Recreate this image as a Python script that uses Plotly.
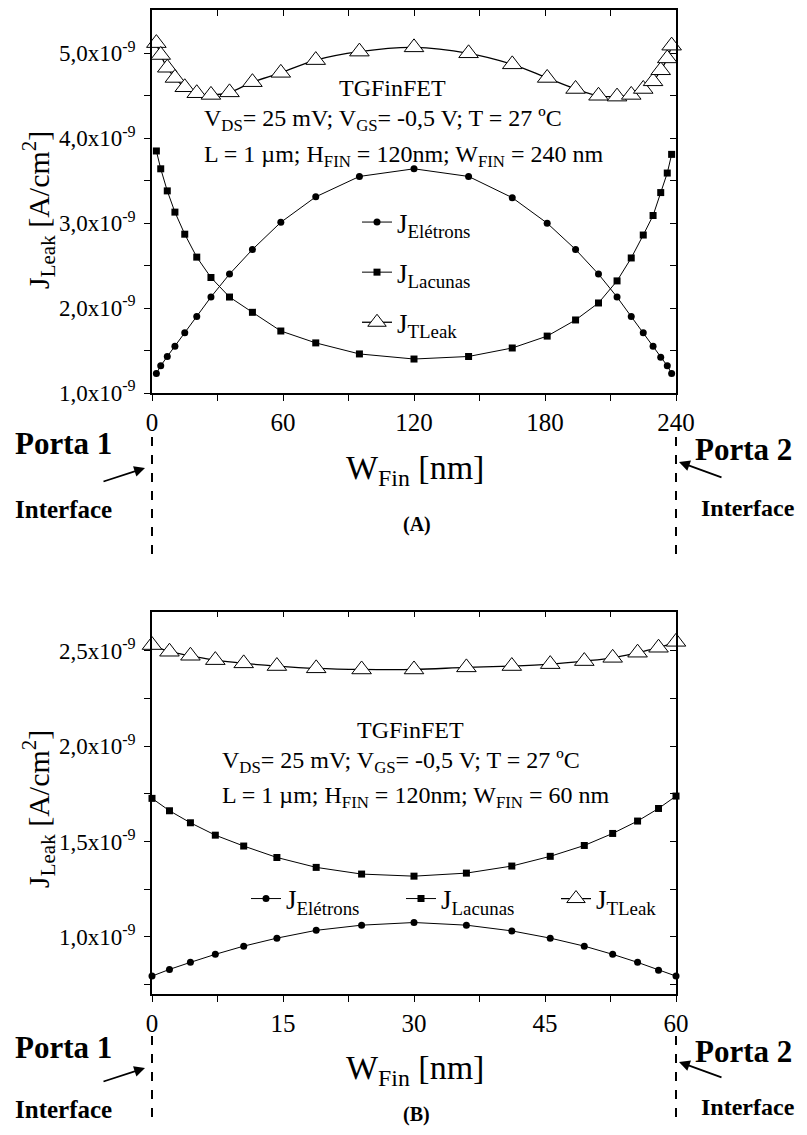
import numpy as np
import plotly.graph_objects as go

W, H = 807, 1135          # browser window
OFF = 8                   # default body margin of the written page
FW, FH = W - 2 * OFF, H - 2 * OFF
FONT = "Liberation Serif"

# ---------------- data (current densities in units of 1e-9 A/cm^2) ----------------
w_fin_a = [2, 4, 7, 10.5, 15, 20.5, 27, 35.5, 46, 59, 75, 95, 120, 145, 165, 181, 194,
           204.5, 213, 219.5, 225, 229.5, 233, 236, 238]
j_eletrons_a = [1.23, 1.32, 1.43, 1.55, 1.71, 1.90, 2.13, 2.40, 2.69, 3.01, 3.31, 3.55, 3.64,
                3.55, 3.30, 3.00, 2.69, 2.40, 2.13, 1.90, 1.71, 1.55, 1.42, 1.32, 1.23]
j_lacunas_a = [3.85, 3.64, 3.38, 3.13, 2.87, 2.60, 2.36, 2.13, 1.95, 1.73, 1.59, 1.46, 1.40,
               1.43, 1.53, 1.67, 1.86, 2.06, 2.32, 2.59, 2.86, 3.09, 3.36, 3.59, 3.81]
j_tleak_a = [5.12, 4.98, 4.83, 4.71, 4.60, 4.53, 4.51, 4.54, 4.66, 4.77, 4.92, 5.02, 5.07,
             5.00, 4.87, 4.71, 4.58, 4.50, 4.49, 4.51, 4.58, 4.67, 4.80, 4.94, 5.09]

w_fin_b = [0, 2, 4.4, 7.25, 10.5, 14.3, 18.8, 24, 30, 36, 41.2, 45.6, 49.5, 52.75, 55.6, 58, 60]
j_eletrons_b = [0.794, 0.829, 0.866, 0.908, 0.951, 0.993, 1.034, 1.061, 1.075, 1.061, 1.031,
                0.993, 0.951, 0.908, 0.866, 0.825, 0.794]
j_lacunas_b = [1.726, 1.661, 1.598, 1.533, 1.476, 1.416, 1.364, 1.329, 1.318, 1.334, 1.371,
               1.422, 1.479, 1.542, 1.607, 1.673, 1.738]
j_tleak_b = [2.53, 2.495, 2.474, 2.451, 2.434, 2.42, 2.408, 2.402, 2.402, 2.413, 2.42, 2.43,
             2.446, 2.463, 2.49, 2.516, 2.547]

yticks_a = [1.0, 2.0, 3.0, 4.0, 5.0]
yminor_a = [1.5, 2.5, 3.5, 4.5]
yticks_b = [1.0, 1.5, 2.0, 2.5]
yminor_b = [0.75, 1.25, 1.75, 2.25]
xticks_a = [0, 60, 120, 180, 240]
xticks_b = [0, 15, 30, 45, 60]
SCALE = 1e-9


def P(x):
    return (x - OFF) / FW


def Q(y):
    return 1 - (y - OFF) / FH


def tick_text(v):
    return ("%.1f" % v).replace(".", ",") + "x10<sup>-9</sup>"


names = ["J<sub>Elétrons</sub>", "J<sub>Lacunas</sub>", "J<sub>TLeak</sub>"]

fig = go.Figure()


def add_panel(xv, je, jl, jt, xa, ya, legend, tag):
    sc = np.array
    fig.add_trace(go.Scatter(x=xv, y=sc(je) * SCALE, mode="lines+markers", name=names[0],
                             line=dict(color="black", width=1),
                             marker=dict(symbol="circle", size=7, color="black"),
                             xaxis=xa, yaxis=ya, legend=legend, legendgroup=tag + "e",
                             cliponaxis=False))
    fig.add_trace(go.Scatter(x=xv, y=sc(jl) * SCALE, mode="lines+markers", name=names[1],
                             line=dict(color="black", width=1),
                             marker=dict(symbol="square", size=7, color="black"),
                             xaxis=xa, yaxis=ya, legend=legend, legendgroup=tag + "l",
                             cliponaxis=False))
    fig.add_trace(go.Scatter(x=xv, y=sc(jt) * SCALE, mode="lines+markers", name=names[2],
                             line=dict(color="black", width=1.3, shape="spline", smoothing=1.0),
                             marker=dict(symbol="triangle-up", size=17, color="white",
                                         line=dict(color="black", width=1)),
                             xaxis=xa, yaxis=ya, legend=legend, legendgroup=tag + "t",
                             cliponaxis=False))


add_panel(w_fin_a, j_eletrons_a, j_lacunas_a, j_tleak_a, "x", "y", "legend", "a")
add_panel(w_fin_b, j_eletrons_b, j_lacunas_b, j_tleak_b, "x2", "y2", "legend2", "b")
# invisible traces so the mirrored (top/right) axes are drawn
fig.add_trace(go.Scatter(x=w_fin_a, y=np.array(j_tleak_a) * SCALE, mode="markers",
                         marker=dict(opacity=0), showlegend=False, hoverinfo="skip",
                         xaxis="x3", yaxis="y3"))
fig.add_trace(go.Scatter(x=w_fin_b, y=np.array(j_tleak_b) * SCALE, mode="markers",
                         marker=dict(opacity=0), showlegend=False, hoverinfo="skip",
                         xaxis="x4", yaxis="y4"))

xdom = [P(152), P(676)]
ydom_a = [Q(393), Q(10)]
ydom_b = [Q(994), Q(611.7)]
rng_a = [1.0 * SCALE, 5.51 * SCALE]
rng_b = [0.70 * SCALE, 2.705 * SCALE]

xtickfont = dict(family=FONT, size=25, color="black")
ytickfont = dict(family=FONT, size=23, color="black")
common = dict(showline=True, linecolor="black", linewidth=1.5, showgrid=False, zeroline=False,
              tickcolor="black", tickwidth=1.3, ticklen=6)


def minor(ticks, **kw):
    return dict(ticks=ticks, ticklen=6, tickcolor="black", tickwidth=1.3, **kw)


fig.update_layout(
    width=FW, height=FH, margin=dict(l=0, r=0, t=0, b=0, autoexpand=False),
    paper_bgcolor="white", plot_bgcolor="white",
    font=dict(family=FONT, color="black"),
    xaxis=dict(domain=xdom, anchor="y", range=[0, 240], tickvals=xticks_a, ticks="outside",
               tickfont=xtickfont, ticklabelstandoff=0, minor=minor("outside", dtick=30),
               **common),
    yaxis=dict(domain=ydom_a, anchor="x", range=rng_a, tickvals=[v * SCALE for v in yticks_a],
               ticktext=[tick_text(v) for v in yticks_a], ticks="outside", tickfont=ytickfont,
               ticklabelstandoff=4,
               minor=minor("outside", tickvals=[v * SCALE for v in yminor_a]), **common),
    xaxis3=dict(overlaying="x", anchor="y", side="top", range=[0, 240], tickvals=xticks_a,
                ticks="inside", showticklabels=False, minor=minor("inside", dtick=30), **common),
    yaxis3=dict(overlaying="y", anchor="x", side="right", range=rng_a,
                tickvals=[v * SCALE for v in yticks_a], ticks="inside", showticklabels=False,
                minor=minor("inside", tickvals=[v * SCALE for v in yminor_a]), **common),
    xaxis2=dict(domain=xdom, anchor="y2", range=[0, 60], tickvals=xticks_b, ticks="outside",
                tickfont=xtickfont, ticklabelstandoff=0, minor=minor("outside", dtick=7.5),
                **common),
    yaxis2=dict(domain=ydom_b, anchor="x2", range=rng_b, tickvals=[v * SCALE for v in yticks_b],
                ticktext=[tick_text(v) for v in yticks_b], ticks="outside", tickfont=ytickfont,
                ticklabelstandoff=4,
                minor=minor("outside", tickvals=[v * SCALE for v in yminor_b]), **common),
    xaxis4=dict(overlaying="x2", anchor="y2", side="top", range=[0, 60], tickvals=xticks_b,
                ticks="inside", showticklabels=False, minor=minor("inside", dtick=7.5), **common),
    yaxis4=dict(overlaying="y2", anchor="x2", side="right", range=rng_b,
                tickvals=[v * SCALE for v in yticks_b], ticks="inside", showticklabels=False,
                minor=minor("inside", tickvals=[v * SCALE for v in yminor_b]), **common),
    legend=dict(x=P(357), y=Q(198), xanchor="left", yanchor="top", orientation="v",
                bgcolor="rgba(0,0,0,0)", font=dict(family=FONT, size=27, color="black"),
                tracegroupgap=12),
    legend2=dict(x=P(246), y=Q(899), xanchor="left", yanchor="middle", orientation="h",
                 bgcolor="rgba(0,0,0,0)", font=dict(family=FONT, size=27, color="black"),
                 entrywidth=110, entrywidthmode="pixels"),
    showlegend=True,
)

ann = []


def text(x, y, s, size, bold=False, xanchor="center", angle=0):
    if bold:
        s = "<b>" + s + "</b>"
    ann.append(dict(x=P(x), y=Q(y), xref="paper", yref="paper", text=s, showarrow=False,
                    xanchor=xanchor, yanchor="middle", textangle=angle,
                    font=dict(family=FONT, size=size, color="black")))


def arrow(tx, ty, hx, hy):
    ann.append(dict(x=P(hx), y=Q(hy), xref="paper", yref="paper", text="", showarrow=True,
                    ax=tx - hx, ay=ty - hy, axref="pixel", ayref="pixel",
                    arrowhead=2, arrowsize=1.2, arrowwidth=1.8, arrowcolor="black"))


ytitle = "J<sub>Leak</sub> [A/cm<sup>2</sup>]"
xtitle = "W<sub>Fin</sub> [nm]"
for (ytc, xtc, lab, s) in [(210, 470, 524, "(A)"), (809, 1070, 1114, "(B)")]:
    text(38, ytc, ytitle, 30, angle=-90)
    text(415, xtc, xtitle, 34)
    text(417, lab, s, 20, bold=True)

text(392, 88, "TGFinFET", 24)
text(202, 120, "V<sub>DS</sub>= 25 mV; V<sub>GS</sub>= -0,5 V; T = 27 ºC", 24, xanchor="left")
text(202, 156, "L = 1 µm; H<sub>FIN</sub> = 120nm; W<sub>FIN</sub> = 240 nm", 24, xanchor="left")
text(410, 730, "TGFinFET", 24)
text(220, 762, "V<sub>DS</sub>= 25 mV; V<sub>GS</sub>= -0,5 V; T = 27 ºC", 24, xanchor="left")
text(220, 797, "L = 1 µm; H<sub>FIN</sub> = 120nm; W<sub>FIN</sub> = 60 nm", 24, xanchor="left")

# Porta / Interface labels
for (p1, i1, p2, i2, dy) in [(444, 509, 450, 508, 0), (1047, 1109, 1051, 1107, 600)]:
    text(13, p1, "Porta 1", 31, bold=True, xanchor="left")
    text(13, i1, "Interface", 25, bold=True, xanchor="left")
    text(693, p2, "Porta 2", 31, bold=True, xanchor="left")
    text(699, i2, "Interface", 24, bold=True, xanchor="left")
    arrow(102, 482 + dy, 145, 468 + dy)
    arrow(723, 478 + dy, 679, 462 + dy)

shapes = []
for (ya, yb) in [(437, 555), (1036, 1126)]:
    for xx in [152, 676]:
        shapes.append(dict(type="line", xref="paper", yref="paper", x0=P(xx), x1=P(xx),
                           y0=Q(ya), y1=Q(yb), line=dict(color="black", width=2, dash="dash")))

fig.update_layout(annotations=ann, shapes=shapes)
fig.write_html("out.html")
